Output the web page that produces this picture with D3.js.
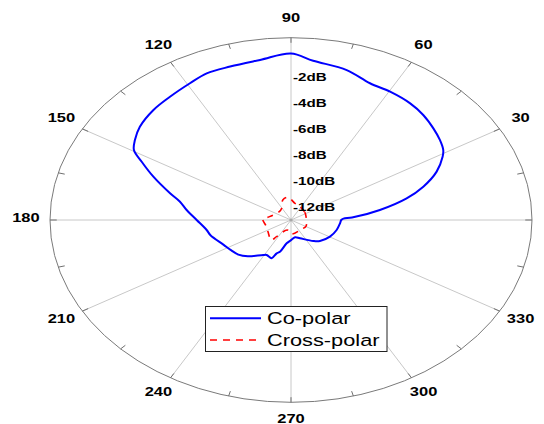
<!DOCTYPE html>
<html><head><meta charset="utf-8">
<script src="https://cdn.jsdelivr.net/npm/d3@7"></script>
<style>html,body{margin:0;padding:0;background:#fff;overflow:hidden}</style>
</head><body>
<svg id="chart" width="544" height="424"></svg>
<script>
// ---- data ----
const angleTicks = [0, 30, 60, 90, 120, 150, 180, 210, 240, 270, 300, 330];
const radialTicks = [-2, -4, -6, -8, -10, -12];
const radialTickLabels = ["-2dB", "-4dB", "-6dB", "-8dB", "-10dB", "-12dB"];
const seriesNames = ["Co-polar", "Cross-polar"];

const coAngles = [0, 2, 3, 8.5, 13.9, 18.4, 23.7, 28.9, 31.3, 35.4, 40.4, 46.4, 52.3, 59.7, 66.4, 74.3, 84, 90,
  98.3, 106.7, 113.5, 119.2, 126.6, 133.4, 140.8, 145.9, 149.5, 152.7, 157.4, 163.7, 167.7, 172.8, 180,
  188.9, 194, 206, 214, 221, 228, 239, 242.3, 249, 252, 255.3, 262, 270, 280, 290.4, 308.8, 316.2,
  330.5, 343.8, 354.9];
const coValues = [-10.08, -9.95, -9.45, -7.78, -6.08, -4.90, -3.76, -2.94, -2.65, -2.39, -2.14, -1.86, -1.68, -1.59, -1.54, -1.04, -0.70, -0.22,
  -0.58, -0.70, -0.72, -0.97, -1.21, -1.37, -1.67, -2.05, -2.41, -3.24, -4.34, -5.68, -6.40, -6.89, -7.52,
  -8.04, -8.18, -8.65, -8.82, -8.95, -9.25, -9.87, -9.96, -9.86, -10.31, -10.48, -11.19, -11.45, -11.65, -11.50, -10.93, -10.67,
  -10.40, -10.24, -10.14];

const crossAngles = [16.2, 38.9, 67, 79.7, 95.7, 107.2, 121, 136.8, 171.2, 177.3, 197.6, 213.8, 233.3, 236.7, 254.3, 271.5, 309.7, 332.1];
const crossValues = [-12.09, -11.99, -11.81, -11.70, -11.25, -11.39, -11.95, -12.07, -11.64, -11.36, -11.48, -11.39, -11.08, -11.47, -12.2, -11.92, -12.07, -12.01];

// ---- layout ----
const cx = 291, cy = 220, rx = 241, ry = 182.3, stretch = 1.32;
const rScale = d3.scaleLinear().domain([-13, 1]).range([0, 1]);
const toRad = d => d * Math.PI / 180;
const px = (deg, n) => cx + n * rx * Math.cos(toRad(deg));
const py = (deg, n) => cy - n * ry * Math.sin(toRad(deg));

const svg = d3.select("#chart");
svg.append("rect").attr("width", 544).attr("height", 424).attr("fill", "#fff");

const grid = svg.append("g");
// spokes
const spokes = d3.range(0, 360, 30);
grid.selectAll("line.spoke").data(spokes).join("line")
  .attr("x1", cx).attr("y1", cy)
  .attr("x2", d => px(d, 1)).attr("y2", d => py(d, 1))
  .attr("stroke", "#c8c8c8").attr("stroke-width", 1);
// outer ellipse
grid.append("ellipse").attr("cx", cx).attr("cy", cy).attr("rx", rx).attr("ry", ry)
  .attr("fill", "none").attr("stroke", "#7a7a7a").attr("stroke-width", 1);
// ticks
grid.selectAll("line.tick").data(d3.range(0, 360, 15)).join("line")
  .attr("x1", d => px(d, 0.972)).attr("y1", d => py(d, 0.972))
  .attr("x2", d => px(d, 1)).attr("y2", d => py(d, 1))
  .attr("stroke", "#707070").attr("stroke-width", 1);
grid.append("circle").attr("cx", cx).attr("cy", cy).attr("r", 1.6).attr("fill", "#a8a8a8");

// angle labels
svg.selectAll("text.ang").data(angleTicks).join("text")
  .attr("transform", d => `translate(${px(d, 1.1)},${py(d, 1.1) - 2}) scale(${stretch},1)`)
  .attr("text-anchor", "middle").attr("dominant-baseline", "central")
  .attr("font-family", "Liberation Sans, Arial, sans-serif").attr("font-weight", "bold")
  .attr("font-size", 12.5).attr("fill", "#000")
  .text(d => d);

// series
const line = d3.line().curve(d3.curveCatmullRomClosed.alpha(0.5));
const coPts = coAngles.map((a, i) => [px(a, rScale(coValues[i])), py(a, rScale(coValues[i]))]);
const crPts = crossAngles.map((a, i) => [px(a, rScale(crossValues[i])), py(a, rScale(crossValues[i]))]);

svg.append("path").attr("d", line(crPts)).attr("fill", "none")
  .attr("stroke", "#ff0000").attr("stroke-width", 1.6).attr("stroke-dasharray", "6,6");
svg.append("path").attr("d", line(coPts)).attr("fill", "none")
  .attr("stroke", "#0000ff").attr("stroke-width", 2).attr("stroke-linejoin", "round");

// radial labels
svg.selectAll("text.rad").data(radialTicks).join("text")
  .attr("transform", (d, i) => `translate(293,${cy - rScale(d) * ry}) scale(${stretch},1)`)
  .attr("text-anchor", "start").attr("dominant-baseline", "central")
  .attr("font-family", "Liberation Sans, Arial, sans-serif").attr("font-weight", "bold")
  .attr("font-size", 11.5).attr("fill", "#000")
  .text((d, i) => radialTickLabels[i]);

// legend
const lg = svg.append("g");
lg.append("rect").attr("x", 205.5).attr("y", 306.5).attr("width", 181.5).attr("height", 45)
  .attr("fill", "#fff").attr("stroke", "#222").attr("stroke-width", 1);
const rows = [{y: 318.3, color: "#0000ff", dash: null}, {y: 340, color: "#ff0000", dash: "7,6"}];
rows.forEach((r, i) => {
  lg.append("line").attr("x1", 210).attr("x2", 261).attr("y1", r.y).attr("y2", r.y)
    .attr("stroke", r.color).attr("stroke-width", i ? 1.6 : 2).attr("stroke-dasharray", r.dash);
  lg.append("text").attr("transform", `translate(267,${r.y + 6}) scale(${stretch},1)`)
    .attr("font-family", "Liberation Sans, Arial, sans-serif").attr("font-size", 16.5).attr("fill", "#000")
    .text(seriesNames[i]);
});
</script>
</body></html>
